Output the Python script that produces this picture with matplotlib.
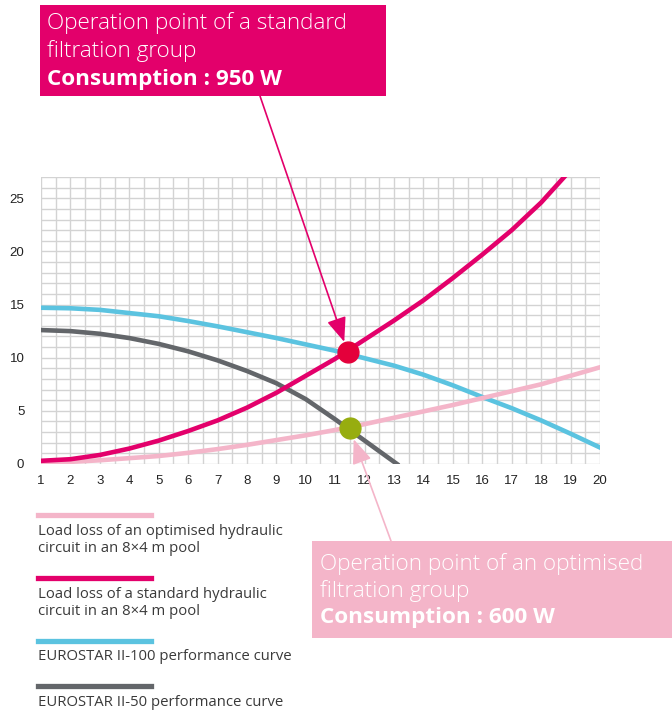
import matplotlib
matplotlib.use("Agg")
import matplotlib.pyplot as plt
from matplotlib.patches import Rectangle

# flow (m3/h) vs head (m)
x_pts = [1, 2, 3, 4, 5, 6, 7, 8, 9, 10, 11, 12, 13, 14, 15, 16, 17, 18, 19, 20]

optimised = [0.05, 0.2, 0.35, 0.55, 0.75, 1.05, 1.4, 1.8, 2.25, 2.7, 3.2,
             3.75, 4.35, 4.95, 5.55, 6.2, 6.85, 7.5, 8.3, 9.1]

standard_x = [1, 2, 3, 4, 5, 6, 7, 8, 9, 10, 11, 12, 13, 14, 15, 16, 17, 18, 18.85]
standard = [0.3, 0.45, 0.85, 1.45, 2.2, 3.1, 4.1, 5.3, 6.7, 8.3, 9.9, 11.7,
            13.5, 15.4, 17.5, 19.7, 22.0, 24.6, 27.2]

eurostar100 = [14.7, 14.65, 14.5, 14.2, 13.9, 13.45, 12.95, 12.4, 11.85, 11.25,
               10.65, 9.95, 9.25, 8.4, 7.4, 6.3, 5.25, 4.1, 2.85, 1.55]

eurostar50_x = [1, 2, 3, 4, 5, 6, 7, 8, 9, 10, 11, 12, 13.1]
eurostar50 = [12.6, 12.5, 12.25, 11.85, 11.3, 10.6, 9.75, 8.75, 7.6, 6.1, 4.2, 2.2, 0.0]

std_point = (11.43, 10.5)
opt_point = (11.49, 3.37)

legend_labels = ["Load loss of an optimised hydraulic\ncircuit in an 8×4 m pool",
                 "Load loss of a standard hydraulic\ncircuit in an 8×4 m pool",
                 "EUROSTAR II-100 performance curve",
                 "EUROSTAR II-50 performance curve"]

c_pink = "#F4B5C9"
c_mag = "#E3006B"
c_blue = "#5BC3E0"
c_grey = "#63666A"

W, H = 672, 713
fig = plt.figure(figsize=(W / 100, H / 100), dpi=100)
fig.patch.set_facecolor("white")

ax = fig.add_axes([41 / W, 1 - 464 / H, (600 - 41) / W, (464 - 177) / H])
ax.set_xlim(1, 20)
ax.set_ylim(0, 27)

# grid: every 0.5 in x, every 1 in y
for gx in [1 + 0.5 * i for i in range(39)]:
    ax.axvline(gx, color="#D3D3D3", lw=1, zorder=0)
for gy in range(28):
    ax.axhline(gy, color="#D3D3D3", lw=1, zorder=0)

for s in ax.spines.values():
    s.set_visible(False)
ax.set_xticks(range(1, 21))
ax.set_yticks([0, 5, 10, 15, 20, 25])
ax.tick_params(length=0, labelsize=9.5, colors="#222222")
ax.tick_params(axis="y", pad=12)
ax.tick_params(axis="x", pad=8)
for lab in ax.get_xticklabels() + ax.get_yticklabels():
    lab.set_family("Liberation Sans")

lw = 3.3
ax.plot(x_pts, eurostar100, color=c_blue, lw=lw, zorder=2)
ax.plot(eurostar50_x, eurostar50, color=c_grey, lw=lw, zorder=2)
ax.plot(x_pts, optimised, color=c_pink, lw=lw, zorder=3)
ax.plot(standard_x, standard, color=c_mag, lw=lw, zorder=3)

ax.plot(*std_point, "o", ms=15, color="#E4003B", zorder=5)
ax.plot(*opt_point, "o", ms=15, color="#97AD10", zorder=5)

# annotation boxes
fig.add_artist(Rectangle((40 / W, 1 - 96 / H), (386 - 40) / W, (96 - 5) / H,
                         transform=fig.transFigure, color=c_mag, lw=0))
fig.add_artist(Rectangle((312 / W, 1 - 638 / H), (672 - 312) / W, (638 - 541) / H,
                         transform=fig.transFigure, color=c_pink, lw=0))

font = "Open Sans"
top_lines = [("Operation point of a standard", "light", 23),
             ("filtration group", "light", 51),
             ("Consumption : 950 W", "bold", 79)]
for txt, wt, yy in top_lines:
    fig.text(47 / W, 1 - yy / H, txt, color="white", fontsize=16.2, weight=wt,
             family=font, va="center", ha="left")

bot_lines = [("Operation point of an optimised", "light", 564),
             ("filtration group", "light", 591),
             ("Consumption : 600 W", "bold", 618)]
for txt, wt, yy in bot_lines:
    fig.text(320 / W, 1 - yy / H, txt, color="white", fontsize=16.2, weight=wt,
             family=font, va="center", ha="left")

ax.annotate("", xy=std_point, xycoords="data",
            xytext=(260 / W, 1 - 96 / H), textcoords="figure fraction",
            arrowprops=dict(arrowstyle="-|>,head_length=1.0,head_width=0.4",
                            mutation_scale=15, color=c_mag, lw=1.2,
                            shrinkA=0, shrinkB=8),
            annotation_clip=False, zorder=6)
ax.annotate("", xy=opt_point, xycoords="data",
            xytext=(391 / W, 1 - 541 / H), textcoords="figure fraction",
            arrowprops=dict(arrowstyle="-|>,head_length=1.0,head_width=0.4",
                            mutation_scale=15, color=c_pink, lw=1.2,
                            shrinkA=0, shrinkB=8.5),
            annotation_clip=False, zorder=6)

# legend, drawn by hand below the chart
leg_colors = [c_pink, c_mag, c_blue, c_grey]
leg_line_y = [515, 578, 641, 686]
leg_text_y = [540, 603, 657, 702]
for col, ly, ty, lab in zip(leg_colors, leg_line_y, leg_text_y, legend_labels):
    fig.add_artist(plt.Line2D([38 / W, 151 / W], [1 - ly / H, 1 - ly / H],
                              color=col, lw=3.8, transform=fig.transFigure))
    fig.text(38 / W, 1 - ty / H, lab, color="#3a3a3a", fontsize=10.7,
             family=font, va="center", ha="left", linespacing=1.12)

fig.savefig("out.png", dpi=100)
